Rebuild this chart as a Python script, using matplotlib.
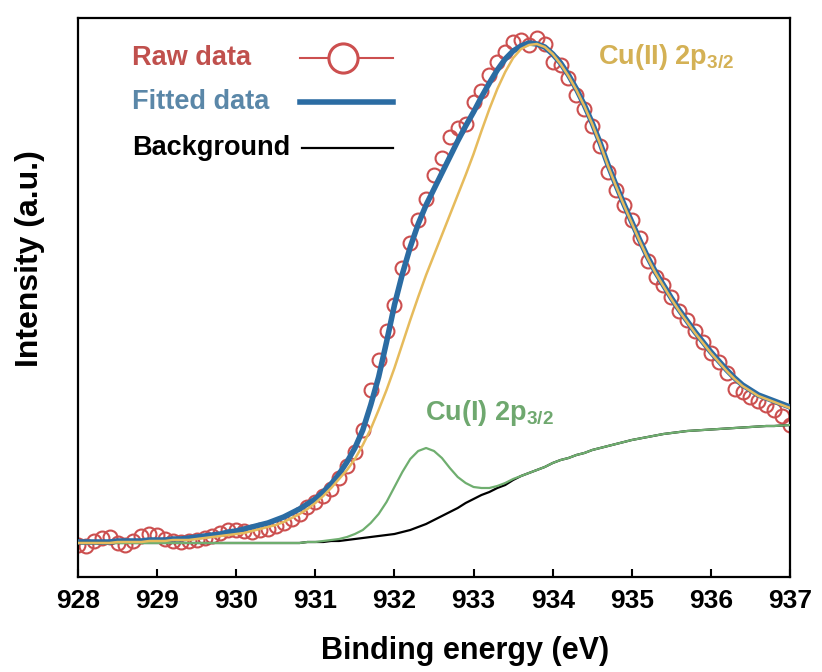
import numpy as np
import matplotlib
matplotlib.use("Agg")
import matplotlib.pyplot as plt

plt.rcParams['font.family'] = ['Liberation Sans', 'DejaVu Sans']
plt.rcParams['font.weight'] = 'bold'
plt.rcParams['mathtext.default'] = 'regular'

# binding energy grid (eV), 0.1 eV step
energy = np.round(np.arange(928.0, 937.001, 0.1), 1)

# measured Cu 2p3/2 spectrum (a.u.)
raw = [32, 31, 36, 39, 40, 34, 32, 36, 41, 43,
       42, 38, 36, 35, 36, 37, 39, 41, 44, 47,
       47, 46, 45, 47, 48, 51, 54, 58, 63, 70,
       75, 81, 88, 99, 111, 125, 147, 187, 217, 246,
       272, 309, 334, 357, 378, 402, 419, 440, 449, 453,
       475, 486, 502, 515, 525, 535, 537, 532, 539, 533,
       515, 512, 499, 482, 468, 451, 431, 405, 387, 372,
       357, 339, 316, 300, 292, 280, 266, 257, 246, 235,
       224, 215, 204, 188, 185, 180, 176, 172, 167, 161,
       152]

# envelope of the fit
fitted = [35, 35, 35, 35, 35, 36, 36, 36, 36, 37,
          37, 37, 38, 38, 39, 40, 41, 42, 43, 45,
          46, 48, 50, 52, 54, 57, 60, 64, 68, 73,
          78, 85, 93, 103, 115, 129, 147, 172, 200, 235,
          272, 303, 330, 353, 372, 388, 404, 420, 436, 451,
          465, 480, 494, 507, 518, 526, 531, 534, 533, 530,
          523, 514, 502, 488, 472, 454, 434, 412, 392, 373,
          355, 337, 320, 305, 292, 279, 267, 256, 245, 235,
          225, 216, 207, 199, 192, 187, 182, 179, 176, 173,
          170]

# Cu(II) component on top of background
cu2 = [34, 34, 34, 34, 34, 35, 35, 35, 35, 36,
       36, 36, 37, 37, 37, 38, 39, 40, 41, 42,
       43, 44, 46, 48, 50, 52, 55, 59, 63, 68,
       74, 81, 89, 98, 107, 118, 132, 148, 167, 187,
       209, 233, 257, 280, 302, 322, 342, 362, 382, 402,
       423, 446, 468, 488, 505, 519, 528, 532, 533, 530,
       523, 513, 501, 487, 471, 453, 433, 411, 391, 372,
       354, 336, 319, 304, 291, 278, 266, 255, 244, 234,
       224, 215, 206, 198, 191, 186, 181, 178, 175, 172,
       169]

# Cu(I) component on top of background
cu1 = [34, 34, 34, 34, 34, 34, 34, 34, 34, 34,
       34, 34, 34, 34, 34, 34, 34, 34, 34, 34,
       34, 34, 34, 34, 34, 34, 34, 34, 34, 35,
       35, 36, 37, 38, 40, 43, 47, 54, 63, 75,
       90, 105, 118, 126, 129, 126, 119, 109, 100, 94,
       90, 89, 89, 91, 94, 98, 101, 104, 107, 110,
       114, 117, 119, 122, 124, 127, 129, 131, 133, 135,
       137, 138.5, 140, 141.5, 143, 144, 145, 146, 146.5, 147,
       147.5, 148, 148.5, 149, 149.5, 150, 150.5, 151, 151, 151.5,
       152]

# Shirley-type background
background = [34, 34, 34, 34, 34, 34, 34, 34, 34, 34,
              34, 34, 34, 34, 34, 34, 34, 34, 34, 34,
              34, 34, 34, 34, 34, 34, 34, 34, 34, 35,
              35, 35, 36, 36, 37, 38, 39, 40, 41, 42,
              43, 45, 47, 50, 53, 57, 61, 65, 69, 74,
              78, 82, 85, 89, 92, 97, 101, 104, 107, 110,
              114, 117, 119, 122, 124, 127, 129, 131, 133, 135,
              137, 138.5, 140, 141.5, 143, 144, 145, 146, 146.5, 147,
              147.5, 148, 148.5, 149, 149.5, 150, 150.5, 151, 151, 151.5,
              152]

c_raw = '#cc4f4f'
c_fit = '#2b6ca3'
c_cu2 = '#e6bb5c'
c_cu1 = '#6fae6f'

fig = plt.figure(figsize=(8.22, 6.72), dpi=100)
ax = fig.add_axes([78/822, 95/672, 712/822, 559/672])

ax.plot(energy, raw, 'o', ms=10, mfc='none', mec=c_raw, mew=1.5, zorder=2)
ax.plot(energy, fitted, color=c_fit, lw=4, zorder=3)
ax.plot(energy, background, color='k', lw=1.6, zorder=4)
ax.plot(energy, cu1, color=c_cu1, lw=1.6, zorder=5)
ax.plot(energy, cu2, color=c_cu2, lw=1.8, zorder=6)

ax.set_xlim(928, 937)
ax.set_ylim(0, 559)
ax.set_xticks(np.arange(928, 938, 1))
ax.set_yticks([])
ax.tick_params(axis='x', direction='in', length=6, width=1.5, labelsize=19, pad=9)
for s in ax.spines.values():
    s.set_linewidth(1.6)

ax.set_xlabel('Binding energy (eV)', fontsize=22, fontweight='bold')
ax.xaxis.set_label_coords(0.543, -0.105)
ax.set_ylabel('Intensity (a.u.)', fontsize=23, fontweight='bold')
ax.yaxis.set_label_coords(-0.046, 0.569)

# hand-placed legend: labels on the left, samples on the right
tx = 0.0758
rows = [(0.928, 'Raw data', '#c0504d'),
        (0.850, 'Fitted data', '#5a87a8'),
        (0.767, 'Background', 'black')]
for y, lab, col in rows:
    ax.text(tx, y, lab, transform=ax.transAxes, fontsize=19.5,
            color=col, va='center', ha='left')
ax.plot([0.312, 0.442], [0.928, 0.928], color=c_raw, lw=1.5, transform=ax.transAxes)
ax.plot([0.372], [0.928], 'o', ms=21, mfc='white', mec=c_raw, mew=2.2, transform=ax.transAxes)
ax.plot([0.312, 0.442], [0.850, 0.850], color=c_fit, lw=4, transform=ax.transAxes)
ax.plot([0.315, 0.442], [0.767, 0.767], color='k', lw=1.6, transform=ax.transAxes)

ax.text(0.730, 0.930, r'Cu(II) 2p$_{3/2}$', transform=ax.transAxes,
        fontsize=19.5, color='#d4b155', va='center', ha='left')
ax.text(0.487, 0.293, r'Cu(I) 2p$_{3/2}$', transform=ax.transAxes,
        fontsize=19.5, color='#6fa86f', va='center', ha='left')

fig.savefig('out.png', dpi=100)
